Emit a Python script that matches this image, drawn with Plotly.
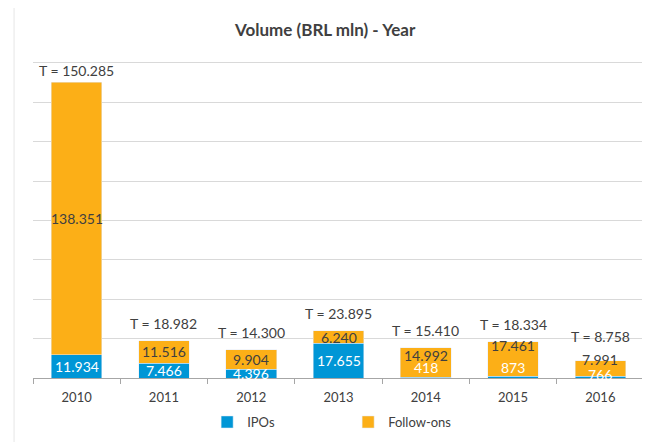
import plotly.graph_objects as go

# data (BRL mln)
years = ["2010", "2011", "2012", "2013", "2014", "2015", "2016"]
ipos = [11934, 7466, 4396, 17655, 418, 873, 766]
follow_ons = [138351, 11516, 9904, 6240, 14992, 17461, 7991]
totals = [150285, 18982, 14300, 23895, 15410, 18334, 8758]

BLUE = "#0096D6"
ORANGE = "#FCAF17"
TXT = "#404040"
FONT = "Lato"

# label nudges in pixels (excel moved the crowded labels up a bit)
IPO_SHIFT = {"2014": 10, "2015": 10, "2016": 3}
FO_SHIFT = {"2014": 7, "2015": 14, "2016": 9}
T_SHIFT = {"2010": 12, "2016": 24}


def br(v):
    # brazilian style thousands separator
    return f"{v:,}".replace(",", ".")


fig = go.Figure()
fig.add_trace(go.Bar(x=years, y=ipos, name="IPOs", marker_color=BLUE))
fig.add_trace(go.Bar(x=years, y=follow_ons, name="Follow-ons", marker_color=ORANGE))

annotations = []
# numeric-looking year strings get read as category indices, so use the index
for i, (yr, ipo, fo, tot) in enumerate(zip(years, ipos, follow_ons, totals)):
    annotations.append(dict(x=i, y=ipo / 2, text=br(ipo), showarrow=False,
                            yshift=IPO_SHIFT.get(yr, 0),
                            font=dict(color="white", size=14, family=FONT)))
    annotations.append(dict(x=i, y=ipo + fo / 2, text=br(fo), showarrow=False,
                            yshift=FO_SHIFT.get(yr, 0),
                            font=dict(color=TXT, size=14, family=FONT)))
    annotations.append(dict(x=i, y=ipo + fo, text="T = " + br(tot), showarrow=False,
                            yanchor="middle", yshift=T_SHIFT.get(yr, 17),
                            font=dict(color=TXT, size=14, family=FONT)))

fig.update_layout(
    barmode="stack",
    bargap=0.42,
    width=650, height=442,
    # the page body adds 8px on top/left, margins account for it
    margin=dict(l=25, r=14, t=51, b=72),
    paper_bgcolor="white", plot_bgcolor="white",
    font=dict(family=FONT, color=TXT, size=13),
    title=dict(text="<b>Volume (BRL mln) - Year</b>", x=0.488, xanchor="center",
               y=0.95, yanchor="middle", font=dict(size=17, color=TXT, family=FONT)),
    legend=dict(orientation="h", x=0.285, xanchor="left", y=-0.138, yanchor="middle",
                font=dict(size=13, color=TXT), entrywidth=96, entrywidthmode="pixels",
                traceorder="normal"),
    annotations=annotations,
    shapes=[dict(type="line", xref="paper", yref="paper", x0=-0.031, x1=-0.031,
                 y0=-0.3, y1=1.3, line=dict(color="#e6e6e6", width=1), layer="below")],
)
fig.update_xaxes(type="category", range=[-0.5, len(years) - 0.5], showline=True,
                 linecolor="#a6a6a6", linewidth=1,
                 ticks="outside", tickson="boundaries", ticklen=5, tickcolor="#a6a6a6",
                 ticklabelstandoff=7, tickfont=dict(size=13, color=TXT))
# a bit above 160k so the top gridline is drawn
fig.update_yaxes(range=[0, 162000], dtick=20000, showticklabels=False,
                 showgrid=True, gridcolor="#d9d9d9", gridwidth=1, zeroline=False)

fig.write_html("out.html")
